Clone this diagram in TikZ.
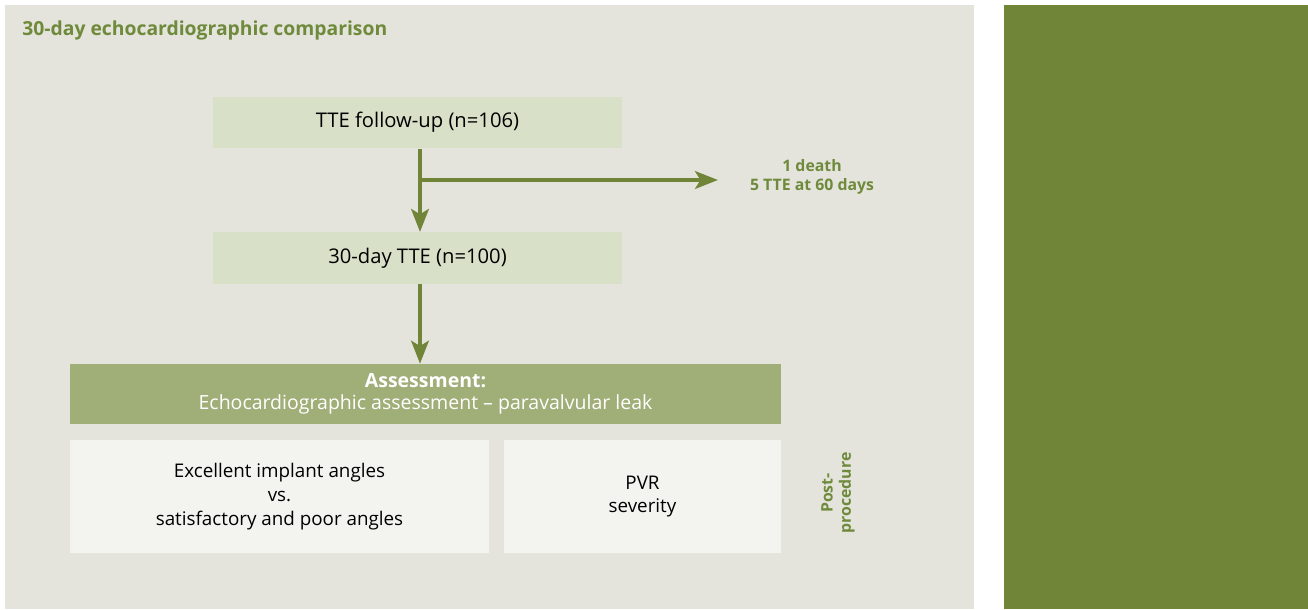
\documentclass[tikz,border=0pt]{standalone}
\usepackage{fontspec}
\setmainfont{Open Sans}
\usepackage{tikz}
\usetikzlibrary{arrows.meta}
\definecolor{panelgray}{HTML}{E4E4DD}
\definecolor{leafgreen}{HTML}{708537}
\definecolor{titlegreen}{HTML}{6E8A3A}
\definecolor{boxgreen}{HTML}{D8E0C8}
\definecolor{assessgreen}{HTML}{A0AE78}
\definecolor{lightbox}{HTML}{F3F3EF}

\begin{document}
\begin{tikzpicture}[>={Stealth[length=13pt,width=10pt,inset=3pt]},
    flow/.style = {->, draw=leafgreen, line width=2.3pt},
    stepbox/.style = {fill=boxgreen, minimum width=8.18cm, minimum height=1.03cm, font=\fontsize{11.5}{13}\selectfont},
    assessbox/.style = {fill=assessgreen, text=white, minimum width=14.22cm, minimum height=1.2cm, align=center, font=\fontsize{11.1}{12.2}\selectfont},
    resultbox/.style = {fill=lightbox, minimum height=2.26cm, align=center, font=\fontsize{10.7}{13.6}\selectfont},
    note/.style = {text=titlegreen, align=center, font=\bfseries\fontsize{9}{11}\selectfont}]
    % Background
    \useasboundingbox (0,0) rectangle (26.16,-12.18);
    \fill[white] (0,0) rectangle (26.16,-12.18);
    \fill[panelgray] (0.1,-0.1) rectangle (19.48,-12.18);
    \fill[leafgreen] (20.08,-0.1) rectangle (26.16,-12.18);

    % Nodes
    \node[anchor=west, inner sep=0pt, text=titlegreen, font=\bfseries\fontsize{11}{13}\selectfont] (title) at (0.44,-0.6) {30-day echocardiographic comparison};
    \node[stepbox] (followup) at (8.35,-2.45) {TTE follow-up (n=106)};
    \node[stepbox] (tte) at (8.35,-5.16) {30-day TTE (n=100)};
    \node[note] (lost) at (16.24,-3.54) {1 death\\5 TTE at 60 days};
    \node[assessbox] (assess) at (8.51,-7.88) {\textbf{Assessment:}\\Echocardiographic assessment -- paravalvular leak};
    \node[resultbox, minimum width=8.38cm] (angles) at (5.59,-9.93) {Excellent implant angles\\vs.\\satisfactory and poor angles};
    \node[resultbox, minimum width=5.54cm] (pvr) at (12.85,-9.93) {PVR\\severity};
    \node[note, rotate=90, font=\bfseries\fontsize{9}{10.5}\selectfont] (post) at (16.76,-9.86) {Post-\\procedure};
    \coordinate (axis) at (8.4,0);
    \coordinate (branch) at (8.4,-3.6);
    \coordinate (tip) at (14.36,-3.6);

    % Edges
    \draw[flow] (followup.south -| axis) -- (tte.north -| axis);
    \draw[flow] (branch) -- (tip);
    \draw[flow] (tte.south -| axis) -- (assess.north -| axis);

\end{tikzpicture}
\end{document}
